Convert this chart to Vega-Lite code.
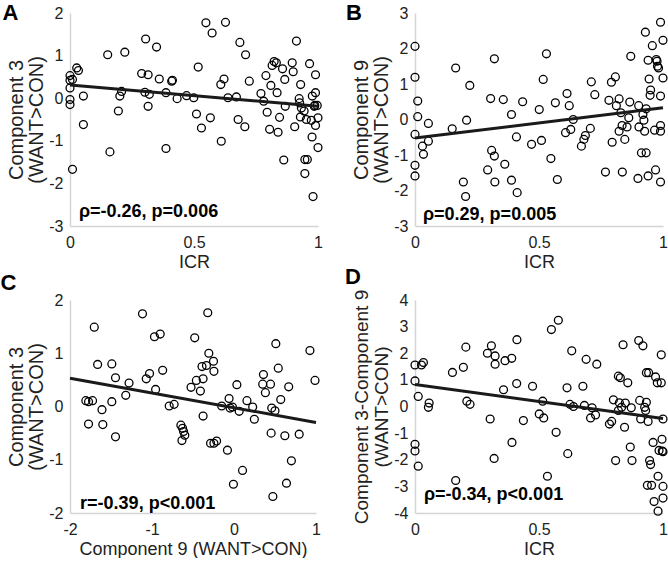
{
  "$schema": "https://vega.github.io/schema/vega-lite/v6.json",
  "background": "white",
  "padding": {"left": 0, "top": 1, "right": 0, "bottom": 0},
  "config": {
    "font": "Liberation Sans",
    "view": {"stroke": null},
    "axis": {"grid": false, "ticks": false, "domainColor": "#d4d4d4", "domainWidth": 1.5, "labelFont": "Liberation Sans", "labelFontSize": 16, "labelColor": "#222222", "titleFont": "Liberation Sans", "titleFontWeight": "normal", "titleColor": "#222222", "labelExpr": "'' + datum.value", "labelFlush": false, "labelOverlap": false},
    "axisX": {"labelPadding": 8, "titleFontSize": 18, "titlePadding": 3},
    "axisY": {"labelPadding": 7, "titleFontSize": 20, "titlePadding": 2, "titleLineHeight": 20}
  },
  "datasets": {
    "a": [{"x":0.027,"y":0.71},{"x":0.034,"y":0.65},{"x":0,"y":0.53},{"x":0.01,"y":0.44},{"x":0,"y":0.42},{"x":0,"y":0.24},{"x":0,"y":-0.03},{"x":0,"y":-0.15},{"x":0.054,"y":0.05},{"x":0.054,"y":-0.62},{"x":0.01,"y":-1.67},{"x":0.152,"y":1.02},{"x":0.221,"y":1.08},{"x":0.161,"y":-1.26},{"x":0.195,"y":-0.3},{"x":0.201,"y":0.05},{"x":0.208,"y":0.16},{"x":0.289,"y":0.58},{"x":0.315,"y":0.55},{"x":0.305,"y":1.39},{"x":0.349,"y":1.2},{"x":0.302,"y":0.14},{"x":0.32,"y":0.09},{"x":0.315,"y":-0.19},{"x":0.36,"y":0.45},{"x":0.387,"y":0.13},{"x":0.41,"y":0.4},{"x":0.413,"y":0.42},{"x":0.387,"y":-1.18},{"x":0.432,"y":-0.01},{"x":0.47,"y":0.06},{"x":0.499,"y":0.01},{"x":0.51,"y":-0.37},{"x":0.517,"y":0.73},{"x":0.53,"y":-0.7},{"x":0.548,"y":1.77},{"x":0.573,"y":1.53},{"x":0.566,"y":-0.46},{"x":0.608,"y":0.32},{"x":0.621,"y":0.45},{"x":0.627,"y":1.78},{"x":0.61,"y":-1.01},{"x":0.637,"y":0.01},{"x":0.671,"y":0.03},{"x":0.678,"y":-0.5},{"x":0.685,"y":1.31},{"x":0.708,"y":1.02},{"x":0.723,"y":0.4},{"x":0.705,"y":-0.67},{"x":0.77,"y":0.11},{"x":0.781,"y":-0.07},{"x":0.79,"y":0.53},{"x":0.795,"y":-0.33},{"x":0.805,"y":-0.73},{"x":0.81,"y":0.3},{"x":0.815,"y":0.77},{"x":0.823,"y":0.86},{"x":0.832,"y":0.83},{"x":0.835,"y":0.13},{"x":0.839,"y":-0.8},{"x":0.845,"y":-0.45},{"x":0.857,"y":0.69},{"x":0.866,"y":0.44},{"x":0.868,"y":-0.19},{"x":0.862,"y":-1.45},{"x":0.896,"y":0.83},{"x":0.9,"y":0.62},{"x":0.906,"y":-0.67},{"x":0.913,"y":1.34},{"x":0.924,"y":-0.01},{"x":0.926,"y":-0.11},{"x":0.93,"y":0.32},{"x":0.933,"y":-0.23},{"x":0.929,"y":-0.44},{"x":0.944,"y":-0.3},{"x":0.947,"y":-1.44},{"x":0.957,"y":-1.44},{"x":0.947,"y":-1.77},{"x":0.953,"y":-0.5},{"x":0.966,"y":0.81},{"x":0.973,"y":-0.52},{"x":0.976,"y":-0.91},{"x":0.977,"y":0.05},{"x":0.98,"y":-2.31},{"x":0.987,"y":-0.17},{"x":0.99,"y":0.55},{"x":0.99,"y":0.13},{"x":0.99,"y":-0.64},{"x":0.997,"y":-0.17},{"x":1,"y":-0.46},{"x":1,"y":-1.16},{"x":0.985,"y":-0.19}],
    "b": [{"x":0,"y":2.06},{"x":0,"y":1.19},{"x":0.011,"y":0.52},{"x":0.011,"y":0.08},{"x":0,"y":-0.42},{"x":0.03,"y":-0.75},{"x":0.034,"y":-0.98},{"x":0.054,"y":-0.11},{"x":0.054,"y":-0.61},{"x":0,"y":-1.29},{"x":0,"y":-1.59},{"x":0.15,"y":-0.26},{"x":0.164,"y":1.45},{"x":0.208,"y":-0.02},{"x":0.221,"y":0.96},{"x":0.195,"y":-1.76},{"x":0.204,"y":-2.17},{"x":0.293,"y":-1.42},{"x":0.305,"y":0.59},{"x":0.309,"y":-0.87},{"x":0.32,"y":-1.03},{"x":0.32,"y":1.71},{"x":0.322,"y":-1.76},{"x":0.356,"y":0.56},{"x":0.362,"y":-1.26},{"x":0.389,"y":0.14},{"x":0.389,"y":-1.71},{"x":0.409,"y":-0.49},{"x":0.412,"y":-2.06},{"x":0.434,"y":0.5},{"x":0.47,"y":-0.7},{"x":0.501,"y":0.28},{"x":0.51,"y":-0.59},{"x":0.517,"y":1.13},{"x":0.53,"y":1.85},{"x":0.548,"y":-1.1},{"x":0.566,"y":0.47},{"x":0.574,"y":-1.69},{"x":0.607,"y":-0.37},{"x":0.613,"y":0.73},{"x":0.622,"y":0.39},{"x":0.628,"y":-0.28},{"x":0.638,"y":0},{"x":0.671,"y":-0.75},{"x":0.681,"y":-0.56},{"x":0.687,"y":-0.45},{"x":0.707,"y":-0.25},{"x":0.711,"y":1.06},{"x":0.725,"y":0.7},{"x":0.768,"y":-1.48},{"x":0.782,"y":0.54},{"x":0.795,"y":-0.64},{"x":0.792,"y":1.05},{"x":0.808,"y":1.2},{"x":0.812,"y":0.39},{"x":0.823,"y":0.58},{"x":0.823,"y":-0.33},{"x":0.83,"y":0.19},{"x":0.835,"y":-0.17},{"x":0.836,"y":-1.48},{"x":0.846,"y":-0.56},{"x":0.855,"y":-0.21},{"x":0.862,"y":0.05},{"x":0.866,"y":0.49},{"x":0.87,"y":1.78},{"x":0.899,"y":-1.66},{"x":0.902,"y":0.39},{"x":0.903,"y":-0.21},{"x":0.913,"y":-0.94},{"x":0.919,"y":0.14},{"x":0.923,"y":-0.02},{"x":0.926,"y":-0.33},{"x":0.932,"y":-0.94},{"x":0.929,"y":2.46},{"x":0.932,"y":0.3},{"x":0.94,"y":-1.59},{"x":0.94,"y":1.67},{"x":0.944,"y":1.14},{"x":0.948,"y":0.68},{"x":0.95,"y":0.83},{"x":0.957,"y":2.08},{"x":0.966,"y":-0.3},{"x":0.97,"y":-1.42},{"x":0.973,"y":1.69},{"x":0.976,"y":1.64},{"x":0.978,"y":1.5},{"x":0.982,"y":1.45},{"x":0.99,"y":2.74},{"x":0.99,"y":-1.76},{"x":0.99,"y":0.66},{"x":0.99,"y":-0.17},{"x":0.99,"y":-0.33},{"x":1,"y":2.23},{"x":1,"y":1.17}],
    "c": [{"x":-1.807,"y":0.11},{"x":-1.774,"y":0.09},{"x":-1.725,"y":0.11},{"x":-1.704,"y":1.49},{"x":-1.663,"y":0.79},{"x":-1.774,"y":-0.33},{"x":-1.61,"y":-0.06},{"x":-1.6,"y":-0.34},{"x":-1.49,"y":0.8},{"x":-1.49,"y":0.09},{"x":-1.445,"y":0.54},{"x":-1.445,"y":-0.57},{"x":-1.32,"y":0.21},{"x":-1.28,"y":0.44},{"x":-1.116,"y":1.74},{"x":-1.07,"y":0.52},{"x":-1.03,"y":0.62},{"x":-0.97,"y":1.31},{"x":-0.9,"y":1.36},{"x":-0.956,"y":0.32},{"x":-0.87,"y":0.68},{"x":-0.79,"y":0.01},{"x":-0.73,"y":0.04},{"x":-0.648,"y":-0.35},{"x":-0.627,"y":-0.41},{"x":-0.615,"y":-0.47},{"x":-0.6,"y":-0.54},{"x":-0.635,"y":-0.64},{"x":-0.524,"y":0.36},{"x":-0.479,"y":1.29},{"x":-0.459,"y":0.49},{"x":-0.41,"y":0.29},{"x":-0.377,"y":0.52},{"x":-0.39,"y":0.75},{"x":-0.377,"y":-0.18},{"x":-0.336,"y":0.77},{"x":-0.307,"y":1.0},{"x":-0.32,"y":1.76},{"x":-0.25,"y":0.85},{"x":-0.245,"y":0.66},{"x":-0.286,"y":-0.69},{"x":-0.245,"y":-0.69},{"x":-0.212,"y":-0.65},{"x":-0.15,"y":0.01},{"x":-0.08,"y":-0.82},{"x":-0.06,"y":0.15},{"x":-0.048,"y":-0.03},{"x":-0.019,"y":-0.01},{"x":-0.007,"y":-1.46},{"x":0.035,"y":0.41},{"x":0.063,"y":-0.09},{"x":0.104,"y":-1.2},{"x":0.158,"y":0.11},{"x":0.228,"y":-0.01},{"x":0.248,"y":-0.24},{"x":0.359,"y":0.6},{"x":0.35,"y":0.42},{"x":0.383,"y":0.26},{"x":0.445,"y":0.42},{"x":0.46,"y":-0.03},{"x":0.453,"y":-0.5},{"x":0.474,"y":-1.69},{"x":0.5,"y":-0.08},{"x":0.51,"y":1.18},{"x":0.54,"y":0.72},{"x":0.57,"y":0.13},{"x":0.62,"y":-0.55},{"x":0.64,"y":-1.44},{"x":0.667,"y":0.37},{"x":0.7,"y":-1.02},{"x":0.795,"y":-0.52},{"x":0.926,"y":1.05},{"x":0.988,"y":0.49}],
    "d": [{"x":0,"y":1.56},{"x":0,"y":0.96},{"x":0,"y":-1.42},{"x":0,"y":-1.67},{"x":0.013,"y":-2.24},{"x":0.013,"y":0.38},{"x":0.026,"y":1.56},{"x":0.034,"y":1.65},{"x":0.057,"y":0.13},{"x":0.054,"y":-0.03},{"x":0.151,"y":1.28},{"x":0.164,"y":-2.78},{"x":0.195,"y":1.47},{"x":0.205,"y":2.23},{"x":0.209,"y":0.2},{"x":0.222,"y":0.08},{"x":0.292,"y":2.0},{"x":0.308,"y":2.28},{"x":0.303,"y":-0.47},{"x":0.323,"y":1.9},{"x":0.323,"y":1.59},{"x":0.319,"y":-1.95},{"x":0.357,"y":0.63},{"x":0.363,"y":1.72},{"x":0.39,"y":1.81},{"x":0.391,"y":-1.35},{"x":0.41,"y":0.86},{"x":0.411,"y":2.51},{"x":0.437,"y":-0.53},{"x":0.474,"y":0.76},{"x":0.501,"y":-0.28},{"x":0.515,"y":0.2},{"x":0.519,"y":-0.43},{"x":0.534,"y":-2.62},{"x":0.55,"y":2.89},{"x":0.569,"y":-0.97},{"x":0.578,"y":3.24},{"x":0.613,"y":0.7},{"x":0.616,"y":-1.77},{"x":0.625,"y":0.08},{"x":0.632,"y":2.09},{"x":0.639,"y":0},{"x":0.677,"y":0.76},{"x":0.683,"y":0.04},{"x":0.69,"y":1.77},{"x":0.708,"y":-0.43},{"x":0.714,"y":-0.05},{"x":0.728,"y":-0.32},{"x":0.733,"y":1.59},{"x":0.784,"y":-0.66},{"x":0.793,"y":-0.56},{"x":0.8,"y":0.25},{"x":0.809,"y":-2.03},{"x":0.82,"y":-0.15},{"x":0.82,"y":1.14},{"x":0.828,"y":1.08},{"x":0.824,"y":0.14},{"x":0.833,"y":-0.03},{"x":0.839,"y":2.32},{"x":0.848,"y":0.13},{"x":0.845,"y":-0.78},{"x":0.858,"y":0.89},{"x":0.868,"y":-1.52},{"x":0.872,"y":-0.05},{"x":0.875,"y":-2.03},{"x":0.902,"y":2.48},{"x":0.906,"y":0.23},{"x":0.91,"y":-0.47},{"x":0.919,"y":2.28},{"x":0.926,"y":-0.03},{"x":0.933,"y":0.16},{"x":0.93,"y":-0.15},{"x":0.933,"y":1.27},{"x":0.942,"y":1.27},{"x":0.94,"y":-0.56},{"x":0.946,"y":-2.03},{"x":0.95,"y":-2.18},{"x":0.937,"y":-2.96},{"x":0.954,"y":-2.96},{"x":0.96,"y":-1.35},{"x":0.97,"y":1.11},{"x":0.977,"y":0.89},{"x":0.98,"y":-2.62},{"x":0.984,"y":-1.65},{"x":0.993,"y":1.94},{"x":0.993,"y":0.89},{"x":0.996,"y":-1.23},{"x":1,"y":-0.47},{"x":0.997,"y":-1.67},{"x":1,"y":-3.0},{"x":0.964,"y":-3.57},{"x":1,"y":-3.44},{"x":0.98,"y":-3.93},{"x":1,"y":-1.7}],
    "la": [{"x":0,"y":0.31},{"x":1,"y":-0.19}],
    "lb": [{"x":0,"y":-0.52},{"x":1,"y":0.33}],
    "lc": [{"x":-2,"y":0.53},{"x":1,"y":-0.3}],
    "ld": [{"x":0,"y":0.83},{"x":1,"y":-0.45}],
    "ta": [{"kind":"stat","x":0.036,"y":-2.67,"label":"ρ=-0.26, p=0.006"},{"kind":"letter","x":-0.24,"y":1.99,"label":"A"}],
    "tb": [{"kind":"stat","x":0.032,"y":-2.69,"label":"ρ=0.29, p=0.005"},{"kind":"letter","x":-0.246,"y":3.01,"label":"B"}],
    "tc": [{"kind":"stat","x":-1.877,"y":-1.83,"label":"r=-0.39, p<0.001"},{"kind":"letter","x":-2.75,"y":2.31,"label":"C"}],
    "td": [{"kind":"stat","x":0.036,"y":-3.32,"label":"ρ=-0.34, p<0.001"},{"kind":"letter","x":-0.25,"y":4.85,"label":"D"}]
  },
  "columns": 2,
  "bounds": "flush",
  "spacing": {"row": 74, "column": 97},
  "concat": [
    {
      "width": 248, "height": 213,
      "encoding": {
        "x": {"field": "x", "type": "quantitative", "scale": {"domain": [0, 1], "nice": false, "zero": false}, "axis": {"values": [0, 0.5, 1], "title": "ICR"}},
        "y": {"field": "y", "type": "quantitative", "scale": {"domain": [-3, 2], "nice": false, "zero": false}, "axis": {"values": [-3, -2, -1, 0, 1, 2], "title": ["Component 3", "(WANT>CON)"]}}
      },
      "layer": [
        {"data": {"name": "a"}, "mark": {"type": "point", "shape": "circle", "filled": false, "stroke": "#000000", "strokeWidth": 1.3, "size": 62, "opacity": 1}},
        {"data": {"name": "la"}, "mark": {"type": "line", "color": "#1a1a1a", "strokeWidth": 3}},
        {"data": {"name": "ta"}, "transform": [{"filter": "datum.kind == 'stat'"}], "mark": {"type": "text", "align": "left", "baseline": "middle", "fontWeight": "bold", "fontSize": 18, "color": "#000000"}, "encoding": {"text": {"field": "label"}}},
        {"data": {"name": "ta"}, "transform": [{"filter": "datum.kind == 'letter'"}], "mark": {"type": "text", "align": "center", "baseline": "middle", "fontWeight": "bold", "fontSize": 22, "color": "#000000"}, "encoding": {"text": {"field": "label"}}}
      ]
    },
    {
      "width": 248, "height": 213,
      "encoding": {
        "x": {"field": "x", "type": "quantitative", "scale": {"domain": [0, 1], "nice": false, "zero": false}, "axis": {"values": [0, 0.5, 1], "title": "ICR"}},
        "y": {"field": "y", "type": "quantitative", "scale": {"domain": [-3, 3], "nice": false, "zero": false}, "axis": {"values": [-3, -2, -1, 0, 1, 2, 3], "title": ["Component 9", "(WANT>CON)"]}}
      },
      "layer": [
        {"data": {"name": "b"}, "mark": {"type": "point", "shape": "circle", "filled": false, "stroke": "#000000", "strokeWidth": 1.3, "size": 62, "opacity": 1}},
        {"data": {"name": "lb"}, "mark": {"type": "line", "color": "#1a1a1a", "strokeWidth": 3}},
        {"data": {"name": "tb"}, "transform": [{"filter": "datum.kind == 'stat'"}], "mark": {"type": "text", "align": "left", "baseline": "middle", "fontWeight": "bold", "fontSize": 18, "color": "#000000"}, "encoding": {"text": {"field": "label"}}},
        {"data": {"name": "tb"}, "transform": [{"filter": "datum.kind == 'letter'"}], "mark": {"type": "text", "align": "center", "baseline": "middle", "fontWeight": "bold", "fontSize": 22, "color": "#000000"}, "encoding": {"text": {"field": "label"}}}
      ]
    },
    {
      "width": 246, "height": 213,
      "encoding": {
        "x": {"field": "x", "type": "quantitative", "scale": {"domain": [-2, 1], "nice": false, "zero": false}, "axis": {"values": [-2, -1, 0, 1], "title": "Component 9 (WANT>CON)"}},
        "y": {"field": "y", "type": "quantitative", "scale": {"domain": [-2, 2], "nice": false, "zero": false}, "axis": {"values": [-2, -1, 0, 1, 2], "title": ["Component 3", "(WANT>CON)"]}}
      },
      "layer": [
        {"data": {"name": "c"}, "mark": {"type": "point", "shape": "circle", "filled": false, "stroke": "#000000", "strokeWidth": 1.3, "size": 62, "opacity": 1}},
        {"data": {"name": "lc"}, "mark": {"type": "line", "color": "#1a1a1a", "strokeWidth": 3}},
        {"data": {"name": "tc"}, "transform": [{"filter": "datum.kind == 'stat'"}], "mark": {"type": "text", "align": "left", "baseline": "middle", "fontWeight": "bold", "fontSize": 18, "color": "#000000"}, "encoding": {"text": {"field": "label"}}},
        {"data": {"name": "tc"}, "transform": [{"filter": "datum.kind == 'letter'"}], "mark": {"type": "text", "align": "center", "baseline": "middle", "fontWeight": "bold", "fontSize": 22, "color": "#000000"}, "encoding": {"text": {"field": "label"}}}
      ]
    },
    {
      "width": 248, "height": 213,
      "encoding": {
        "x": {"field": "x", "type": "quantitative", "scale": {"domain": [0, 1], "nice": false, "zero": false}, "axis": {"values": [0, 0.5, 1], "title": "ICR"}},
        "y": {"field": "y", "type": "quantitative", "scale": {"domain": [-4, 4], "nice": false, "zero": false}, "axis": {"values": [-4, -3, -2, -1, 0, 1, 2, 3, 4], "title": ["Component 3-Component 9", "(WANT>CON)"], "titleFontSize": 19, "titleLineHeight": 20}}
      },
      "layer": [
        {"data": {"name": "d"}, "mark": {"type": "point", "shape": "circle", "filled": false, "stroke": "#000000", "strokeWidth": 1.3, "size": 62, "opacity": 1}},
        {"data": {"name": "ld"}, "mark": {"type": "line", "color": "#1a1a1a", "strokeWidth": 3}},
        {"data": {"name": "td"}, "transform": [{"filter": "datum.kind == 'stat'"}], "mark": {"type": "text", "align": "left", "baseline": "middle", "fontWeight": "bold", "fontSize": 18, "color": "#000000"}, "encoding": {"text": {"field": "label"}}},
        {"data": {"name": "td"}, "transform": [{"filter": "datum.kind == 'letter'"}], "mark": {"type": "text", "align": "center", "baseline": "middle", "fontWeight": "bold", "fontSize": 22, "color": "#000000"}, "encoding": {"text": {"field": "label"}}}
      ]
    }
  ]
}
